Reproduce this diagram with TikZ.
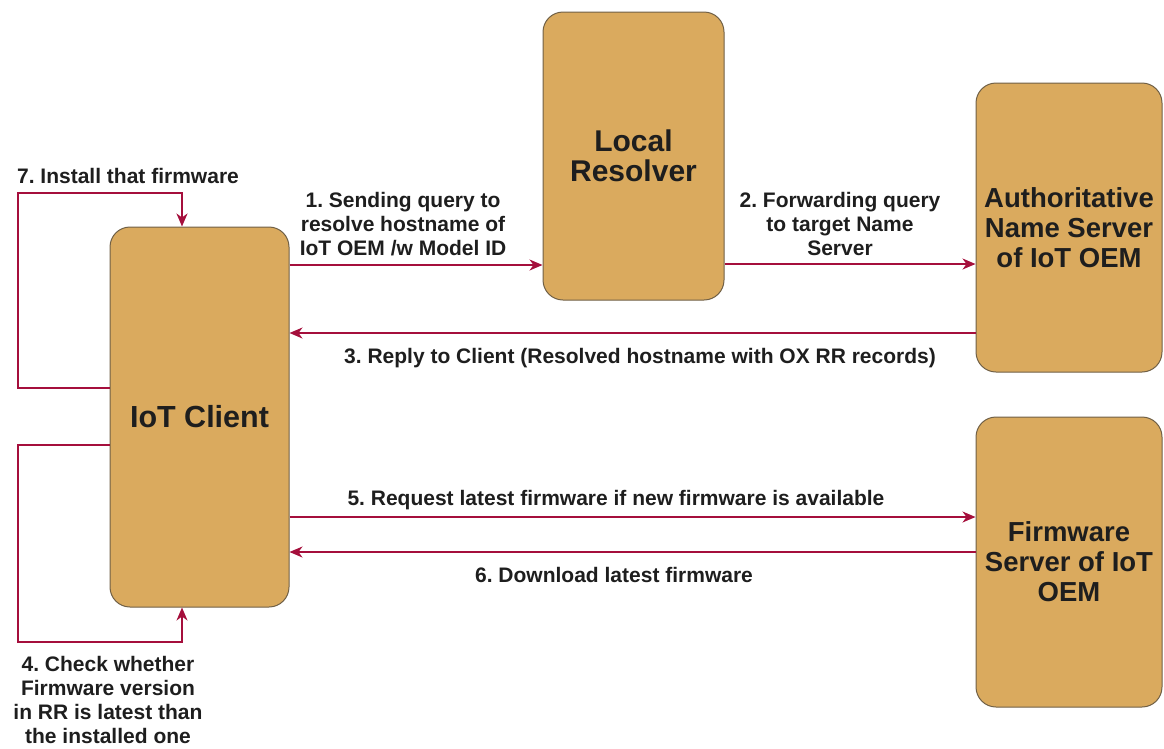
\documentclass[tikz,border=0pt]{standalone}
\usepackage{fontspec}
\setmainfont{Liberation Sans}
\frenchspacing
\usetikzlibrary{arrows.meta}
\definecolor{boxfill}{RGB}{218,170,94}
\definecolor{boxline}{RGB}{112,96,70}
\definecolor{flowred}{RGB}{165,15,60}
\definecolor{ink}{RGB}{30,30,30}
\tikzset{
  entity/.style={draw=boxline, line width=1pt, fill=boxfill, rounded corners=20pt,
    align=center, text=ink, inner sep=0pt},
  flow/.style={draw=flowred, line width=1.4pt,
    -{Stealth[length=13pt,width=11pt,inset=4pt]}},
  lbl/.style={text=ink, align=center, inner sep=0pt,
    font=\fontsize{21}{24}\selectfont\bfseries},
}
\begin{document}
\begin{tikzpicture}[x=1pt,y=-1pt]
\useasboundingbox (0,0) rectangle (1164,748);

% entities
\node[entity, minimum width=179pt, minimum height=380pt,
  font=\fontsize{30.5}{31}\selectfont\bfseries] (client) at (199.5,417) {IoT Client};
\node[entity, minimum width=181pt, minimum height=288pt,
  font=\fontsize{30}{29.5}\selectfont\bfseries] (resolver) at (633.5,156) {Local\\Resolver};
\node[entity, minimum width=186pt, minimum height=289pt,
  font=\fontsize{27.5}{30}\selectfont\bfseries] (auth) at (1069,227.5) {Authoritative\\Name Server\\of IoT OEM};
\node[entity, minimum width=186pt, minimum height=290pt,
  font=\fontsize{27.5}{30}\selectfont\bfseries] (fw) at (1069,562) {Firmware\\Server of IoT\\OEM};

% message flows
\draw[flow] (client.east |- 0,265) -- (resolver.west |- 0,265);
\draw[flow] (resolver.east |- 0,264) -- (auth.west |- 0,264);
\draw[flow] (auth.west |- 0,333) -- (client.east |- 0,333);
\draw[flow] (client.east |- 0,517) -- (fw.west |- 0,517);
\draw[flow] (fw.west |- 0,552) -- (client.east |- 0,552);

% self loops of the client
\coordinate (i1) at (18,388);
\coordinate (i2) at (18,193);
\coordinate (i3) at (182,193);
\draw[flow] (client.west |- i1) -- (i1) -- (i2) -- (i3) -- (client.north -| i3);
\coordinate (c1) at (18,445);
\coordinate (c2) at (18,642);
\coordinate (c3) at (182,642);
\draw[flow] (client.west |- c1) -- (c1) -- (c2) -- (c3) -- (client.south -| c3);

% labels
\node[lbl, anchor=north] (t1) at (403,192) {1. Sending query to\\resolve hostname of\\IoT OEM /w Model ID};
\node[lbl, anchor=north] (t2) at (840,192) {2. Forwarding query\\to target Name\\Server};
\node[lbl, anchor=base] (t3) at (640,363) {3. Reply to Client (Resolved hostname with OX RR records)};
\node[lbl, anchor=north] (t4) at (108,656) {4. Check whether\\Firmware version\\in RR is latest than\\the installed one};
\node[lbl, anchor=base] (t5) at (616,505) {5. Request latest firmware if new firmware is available};
\node[lbl, anchor=base] (t6) at (614,582) {6. Download latest firmware};
\node[lbl, anchor=base] (t7) at (128,183) {7. Install that firmware};
\end{tikzpicture}
\end{document}
